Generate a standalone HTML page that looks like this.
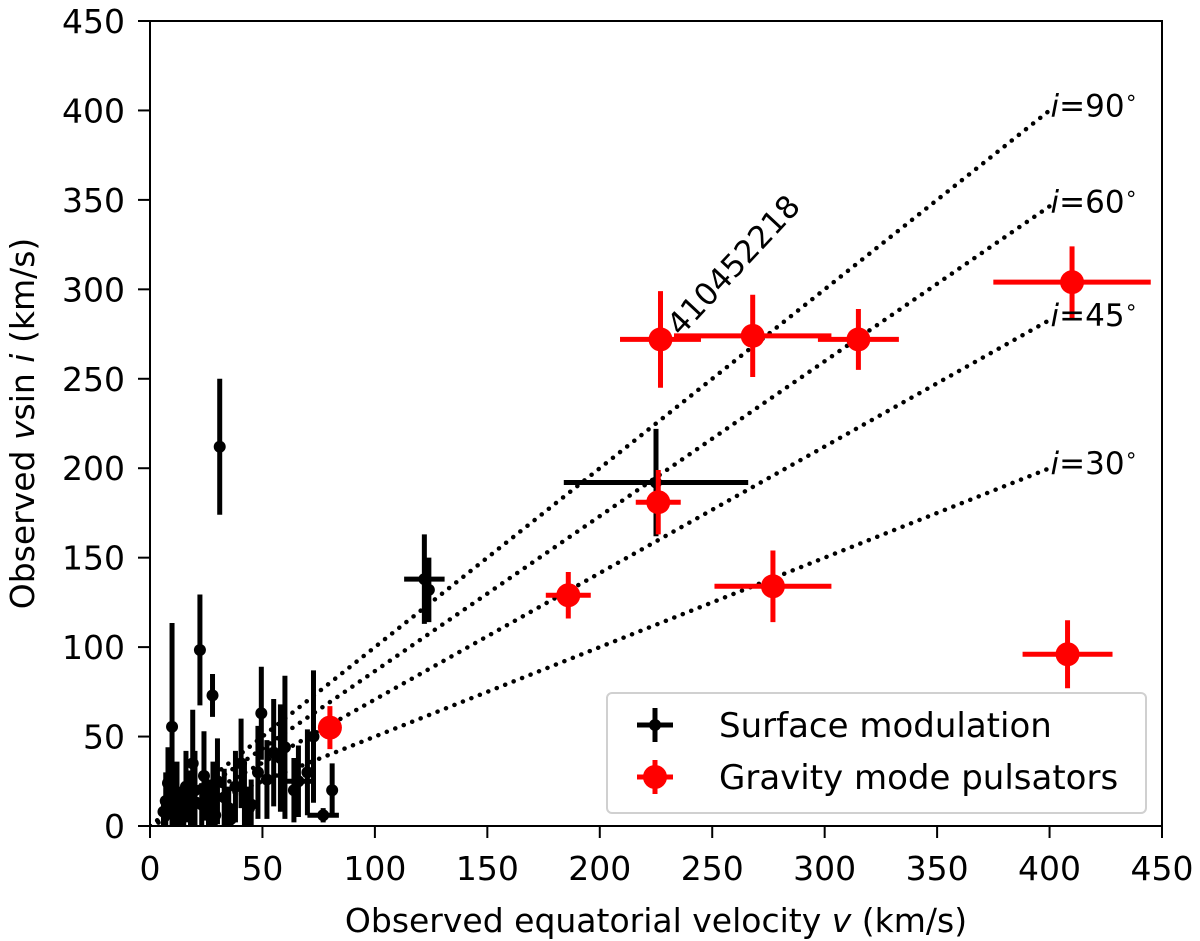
<!DOCTYPE html>
<html><head><meta charset="utf-8"><style>
body{margin:0;background:#fff;}
svg{display:block;font-family:"DejaVu Sans","Liberation Sans",sans-serif;}
</style></head><body>
<svg id="chart" width="1200" height="941" xmlns="http://www.w3.org/2000/svg"></svg>
<script>
// Data
const blackV    = [9.8,22.2,27.8,49.5,60,72.7,81,77,66,19,8,40.5,55,31,122,124,225,7,10,12,14,16,18,20,24,26,28,30,33,35,38,42,45,48,52,58,64,70,6,11,15,23,29,36,44];
const blackY    = [55.5,98.4,73,63,44,50,20,6,25,35,24,35,41,212,138,132,192,14,12,18,10,22,15,20,28,12,18,25,16,10,22,18,12,30,26,38,20,30,8,5,8,12,6,4,10];
const blackXErr = [1,1,1,1,1,1,1,7,6,1,1,1,1,1,9,1,41,1,1,1,1,1,1,1,1,1,1,1,1,1,1,1,1,1,1,1,1,1,1,1,1,1,1,1,1];
const blackYErr = [58,31,12,26,40,37,15,4,20,30,20,25,30,38,25,18,30,16,14,18,12,20,16,22,25,14,18,24,16,12,20,18,14,26,22,30,18,24,8,8,10,12,8,6,12];
const redV    = [80,186,226,227,268,315,277,410,408];
const redY    = [55,129,181,272,274,272,134,304,96];
const redXErr = [3,10,10,18,35,18,26,35,20];
const redYErr = [12,13,18,27,23,17,20,20,19];
const xTicks = [0,50,100,150,200,250,300,350,400,450];
const yTicks = [0,50,100,150,200,250,300,350,400,450];
const incl = [90,60,45,30];

const svg = document.getElementById('chart');
const NS = 'http://www.w3.org/2000/svg';
const X0=150,X1=1162,Y0=826,Y1=21;
const xs = v => X0 + (v/450)*(X1-X0);
const ys = v => Y0 - (v/450)*(Y0-Y1);
function mk(tag, attrs, parent){const e=document.createElementNS(NS,tag);for(const k in attrs)e.setAttribute(k,attrs[k]);(parent||svg).appendChild(e);return e;}

const clip=mk('clipPath',{id:'pc'});
mk('rect',{x:X0,y:Y1,width:X1-X0,height:Y0-Y1},clip);
const plot=mk('g',{'clip-path':'url(#pc)'});

// dotted lines
incl.forEach(a=>{
  const l=mk('line',{x1:xs(0),y1:ys(0),x2:xs(400),y2:ys(400*Math.sin(a*Math.PI/180)),stroke:'#000','stroke-width':4.5,'stroke-dasharray':'0.1 9','stroke-linecap':'round'},plot);
  
  
});

function pt(v,y,xe,ye,color,r,w,name){
  const g=mk('g',{},plot);
  
  
  mk('line',{x1:xs(v-xe),x2:xs(v+xe),y1:ys(y),y2:ys(y),stroke:color,'stroke-width':w},g);
  mk('line',{x1:xs(v),x2:xs(v),y1:ys(y-ye),y2:ys(y+ye),stroke:color,'stroke-width':w},g);
  mk('circle',{cx:xs(v),cy:ys(y),r:r,fill:color},g);
}
blackV.forEach((v,i)=>pt(v,blackY[i],blackXErr[i],blackYErr[i],'#000',6,5,'surface-point'));
redV.forEach((v,i)=>pt(v,redY[i],redXErr[i],redYErr[i],'#ff0000',12,5,'gravity-point'));

incl.forEach(a=>{
  const t=mk('text',{x:xs(400)+1,y:ys(400*Math.sin(a*Math.PI/180))+6,'font-size':31});
  
  
  t.innerHTML='<tspan font-style="italic">i</tspan>=' + a + '<tspan dy="-12" font-size="21">∘</tspan>';
});

// annotation
const ann=mk('text',{x:0,y:0,'font-size':31,transform:`translate(${xs(236)},${ys(272)-2}) rotate(-47)`});


ann.textContent='410452218';

// frame
const fr=mk('rect',{x:X0,y:Y1,width:X1-X0,height:Y0-Y1,fill:'none',stroke:'#000','stroke-width':2});



xTicks.forEach(t=>{
  mk('line',{x1:xs(t),x2:xs(t),y1:Y0,y2:Y0+12,stroke:'#000','stroke-width':2});
  const e=mk('text',{x:xs(t),y:Y0+54,'font-size':33,'text-anchor':'middle'});
  
  
  e.textContent=t;
});
yTicks.forEach(t=>{
  mk('line',{x1:X0-12,x2:X0,y1:ys(t),y2:ys(t),stroke:'#000','stroke-width':2});
  const e=mk('text',{x:X0-25,y:ys(t)+12,'font-size':33,'text-anchor':'end'});
  
  
  e.textContent=t;
});

const xt=mk('text',{x:(X0+X1)/2,y:932,'font-size':33,'text-anchor':'middle'});


xt.innerHTML='Observed equatorial velocity <tspan font-style="italic">v</tspan> (km/s)';
const yt=mk('text',{x:0,y:0,'font-size':33,'text-anchor':'middle',transform:`translate(34,${(Y0+Y1)/2}) rotate(-90)`});


yt.innerHTML='Observed <tspan font-style="italic">v</tspan>sin <tspan font-style="italic">i</tspan> (km/s)';

// legend
const lg=mk('g',{});


mk('rect',{x:607,y:693,width:539,height:120,rx:5,fill:'#fff','fill-opacity':0.85,stroke:'#d0d0d0','stroke-width':2},lg);
mk('line',{x1:637,x2:673,y1:725,y2:725,stroke:'#000','stroke-width':5},lg);
mk('line',{x1:655,x2:655,y1:708,y2:742,stroke:'#000','stroke-width':5},lg);
mk('circle',{cx:655,cy:725,r:6,fill:'#000'},lg);
mk('line',{x1:637,x2:673,y1:777,y2:777,stroke:'#f00','stroke-width':5},lg);
mk('line',{x1:655,x2:655,y1:760,y2:794,stroke:'#f00','stroke-width':5},lg);
mk('circle',{cx:655,cy:777,r:12,fill:'#f00'},lg);
const l1=mk('text',{x:719,y:737,'font-size':34},lg);


l1.textContent='Surface modulation';
const l2=mk('text',{x:719,y:789,'font-size':34},lg);


l2.textContent='Gravity mode pulsators';
</script>
</body></html>
